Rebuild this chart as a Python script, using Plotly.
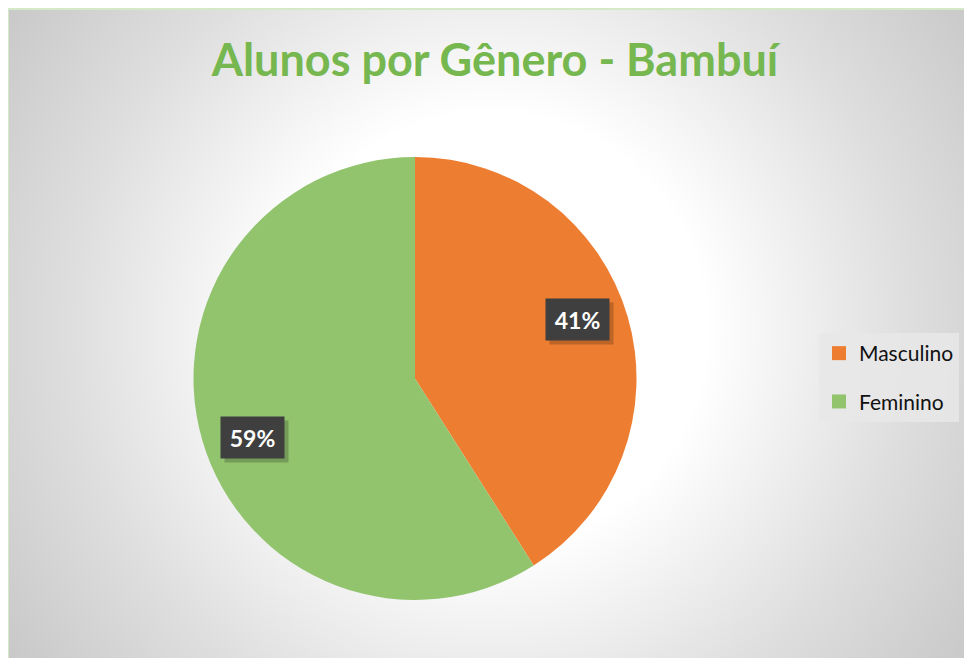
import base64
import math
import plotly.graph_objects as go

# ---- data ----
categories = ["Masculino", "Feminino"]
values = [41, 59]
colors = ["#ED7D31", "#92C46E"]
title_text = "Alunos por Gênero - Bambuí"

W, H = 972, 658
OX, OY = 8, 8  # page offset of the plot inside the browser window


def px(x):
    return (x - OX) / W


def py(y):
    return 1 - (y - OY) / H


# ---- background (radial gradient) ----
bx0, by0 = 8, 9
bw, bh = W + 20, H + 20
svg = f'''<svg xmlns="http://www.w3.org/2000/svg" width="{bw}" height="{bh}" viewBox="0 0 {bw} {bh}" preserveAspectRatio="none">
<defs><radialGradient id="g" gradientUnits="userSpaceOnUse" cx="{490-bx0}" cy="{330-by0}" r="600">
<stop offset="0" stop-color="#ffffff"/><stop offset="0.36" stop-color="#ffffff"/>
<stop offset="0.7" stop-color="#dedede"/><stop offset="1" stop-color="#c6c6c6"/></radialGradient></defs>
<rect x="0" y="0" width="{bw}" height="{bh}" fill="url(#g)"/></svg>'''
src = "data:image/svg+xml;base64," + base64.b64encode(svg.encode()).decode()

# ---- pie geometry (pixels -> paper) ----
p_x0, p_x1, p_y0, p_y1 = 193, 637, 157, 600
dom_x = [px(p_x0), px(p_x1)]
dom_y = [py(p_y1), py(p_y0)]
cx, cy = (p_x0 + p_x1) / 2, (p_y0 + p_y1) / 2
R = (p_x1 - p_x0) / 2
label_r = 0.78
label_rot = -3.6  # degrees
box_w, box_h = 63, 41

fig = go.Figure()
fig.add_trace(go.Pie(
    labels=categories, values=values, sort=False, direction="clockwise", rotation=0,
    marker=dict(colors=colors, line=dict(width=0)),
    textinfo="none", hoverinfo="label+percent", showlegend=False,
    domain=dict(x=dom_x, y=dom_y),
))

# legend via dummy traces (one per category, so spacing can be set)
for name, col in zip(categories, colors):
    fig.add_trace(go.Scatter(
        x=[None], y=[None], mode="markers", name=name, legendgroup=name,
        marker=dict(symbol="square", size=14, color=col),
    ))

# data labels with dark boxes
total = sum(values)
cum = 0
for v in values:
    mid = (cum + v / 2) / total * 2 * math.pi + math.radians(label_rot)
    cum += v
    lx = cx + label_r * R * math.sin(mid)
    ly = cy - label_r * R * math.cos(mid)
    pct = f"{round(v / total * 100)}%"
    # shadow (empty box)
    fig.add_annotation(x=px(lx), y=py(ly), xref="paper", yref="paper", text="&nbsp;",
                       showarrow=False, xshift=4, yshift=-4, xanchor="center", yanchor="middle",
                       width=box_w, height=box_h, borderpad=0,
                       font=dict(family="Lato", size=10, color="rgba(0,0,0,0)"),
                       bgcolor="rgba(0,0,0,0.2)")
    fig.add_annotation(x=px(lx), y=py(ly), xref="paper", yref="paper", text=pct,
                       showarrow=False, xanchor="center", yanchor="middle",
                       width=box_w, height=box_h, borderpad=0,
                       font=dict(family="Lato", size=23, color="#ffffff", weight="bold"),
                       bgcolor="#3f3f3f")

fig.update_layout(
    width=W, height=H,
    margin=dict(l=0, r=0, t=0, b=0),
    paper_bgcolor="#ffffff", plot_bgcolor="rgba(0,0,0,0)",
    title=dict(text=title_text, x=px(495), xanchor="center", y=py(60), yanchor="middle",
               font=dict(family="Lato", size=45, color="#76B74F", weight="bold")),
    xaxis=dict(visible=False), yaxis=dict(visible=False),
    legend=dict(x=px(819), y=py(333), xanchor="left", yanchor="top",
                bgcolor="rgba(232,232,232,0.85)", tracegroupgap=18,
                font=dict(family="Lato", size=21, color="#111111"),
                itemwidth=30),
    images=[dict(source=src, xref="paper", yref="paper", x=px(bx0), y=py(by0),
                 sizex=bw / W, sizey=bh / H, xanchor="left", yanchor="top",
                 sizing="stretch", layer="below")],
    shapes=[dict(type="rect", xref="paper", yref="paper", x0=px(bx0), y0=-0.05,
                 x1=1.05, y1=py(by0), line=dict(color="#D3E9C8", width=2),
                 fillcolor="rgba(0,0,0,0)", layer="above")],
)

fig.write_html("out.html")
